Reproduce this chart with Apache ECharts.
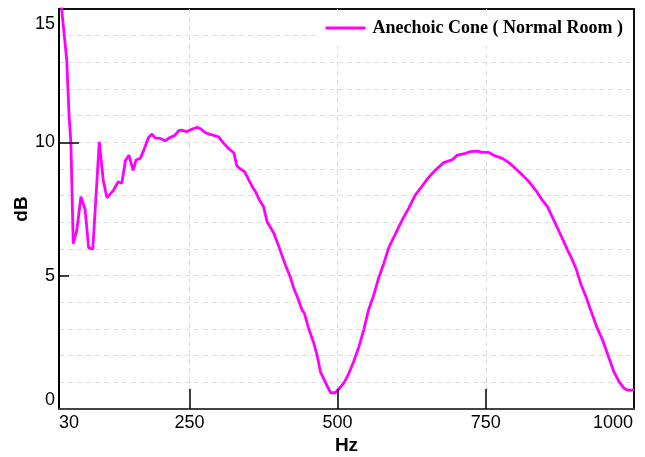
<!DOCTYPE html>
<html>
<head>
<meta charset="utf-8">
<script src="https://cdn.jsdelivr.net/npm/echarts@6/dist/echarts.min.js"></script>
<style>
  html, body { margin: 0; padding: 0; background: #fff; }
  #chart { width: 645px; height: 457px; }
</style>
</head>
<body>
<div id="chart"></div>
<script>
// Measured response of the anechoic cone in a normal room
const freqHz = [30, 43, 47, 50, 54, 60, 67, 74, 80, 87, 98, 105, 111, 122, 130, 136, 142, 148, 155, 160,
  167, 172, 181, 187, 192, 200, 209, 218, 225, 232, 237, 245, 254, 263, 268, 277, 285, 294, 299, 308,
  316, 325, 330, 336, 343, 356, 361, 368, 375, 381, 392, 399, 406, 412, 420, 426, 432, 440, 444, 451,
  460, 466, 471, 479, 488, 496, 502, 511, 519, 527, 536, 544, 552, 561, 569, 578, 586, 598, 609, 620,
  631, 640, 651, 665, 679, 693, 702, 716, 724, 736, 744, 755, 766, 778, 789, 800, 812, 823, 834, 845,
  854, 862, 871, 879, 888, 896, 902, 910, 920, 927, 938, 947, 952, 959, 966, 975, 983, 989, 1000];
const levelDb = [16.0, 13.1, 11.0, 10.0, 6.2, 6.7, 7.96, 7.49, 6.05, 5.99, 10.02, 8.52, 7.92, 8.21, 8.52, 8.47, 9.31, 9.52, 8.95, 9.34,
  9.40, 9.65, 10.18, 10.31, 10.17, 10.15, 10.06, 10.19, 10.25, 10.44, 10.46, 10.40, 10.49, 10.56, 10.52, 10.36, 10.30, 10.24, 10.21, 9.96,
  9.77, 9.60, 9.12, 9.00, 8.90, 8.34, 8.17, 7.84, 7.59, 7.02, 6.61, 6.21, 5.77, 5.40, 4.96, 4.53, 4.21, 3.71, 3.59, 3.03,
  2.46, 1.96, 1.40, 1.02, 0.61, 0.61, 0.75, 0.99, 1.34, 1.77, 2.34, 2.96, 3.70, 4.27, 4.90, 5.46, 6.03, 6.59, 7.09, 7.53,
  8.02, 8.28, 8.62, 8.96, 9.24, 9.34, 9.52, 9.59, 9.65, 9.67, 9.62, 9.62, 9.49, 9.40, 9.24, 9.02, 8.77, 8.52, 8.21, 7.84,
  7.59, 7.21, 6.78, 6.40, 5.96, 5.59, 5.28, 4.71, 4.15, 3.70, 3.03, 2.59, 2.28, 1.84, 1.40, 1.02, 0.78, 0.71, 0.71];

const seriesName = 'Anechoic Cone ( Normal Room )';
const xTickLabels = [30, 250, 500, 750, 1000];
const xGridValues = [250, 500, 750];
const yTickLabels = [0, 5, 10, 15];
const yGridValues = [1, 2, 3, 4, 5, 6, 7, 8, 9, 10, 11, 12, 13, 14];

const GRID = { left: 59, right: 11, top: 9, bottom: 48 };
const plotWidth = 645 - GRID.left - GRID.right;

const tickFont = { fontFamily: 'Liberation Sans, Arial, sans-serif', fontSize: 18, color: '#000' };
const nameFont = { fontFamily: 'Liberation Sans, Arial, sans-serif', fontWeight: 'bold', fontSize: 19, color: '#000' };
const gridDash = { color: '#dcdcdc', width: 1, type: [5, 4] };

const chart = echarts.init(document.getElementById('chart'), null, { renderer: 'canvas' });

// dashed grid: vertical lines at the labelled frequencies, horizontal lines every 1 dB
const gridLines = xGridValues.map(function (v) { return { xAxis: v }; })
  .concat(yGridValues.map(function (v) { return { yAxis: v }; }));

chart.setOption({
  animation: false,
  backgroundColor: '#fff',
  grid: {
    left: GRID.left, right: GRID.right, top: GRID.top, bottom: GRID.bottom,
    outerBoundsMode: 'none', containLabel: false,
    show: true, borderColor: '#111', borderWidth: 2, backgroundColor: 'transparent'
  },
  legend: {
    right: 12, top: 10,
    padding: [9, 10, 9, 6],
    backgroundColor: '#fff',
    itemWidth: 40, itemHeight: 20,
    textStyle: {
      fontFamily: 'Liberation Serif, Times New Roman, serif',
      fontWeight: 'bold', fontSize: 18, color: '#000',
      padding: [0, 0, 0, 2]
    },
    data: [{ name: seriesName, icon: 'path://M0,8.5 L40,8.5 L40,11.5 L0,11.5 Z' }]
  },
  xAxis: {
    type: 'value', min: 30, max: 1000, z: 4,
    name: 'Hz', nameLocation: 'middle', nameGap: 27, nameMoveOverlap: false,
    nameTextStyle: nameFont,
    axisLine: { show: true, lineStyle: { color: '#444', width: 2 } },
    axisTick: { show: true, inside: true, length: 20, customValues: xGridValues, lineStyle: { color: '#000', width: 1.5 } },
    axisLabel: {
      show: true, margin: 5, customValues: xTickLabels,
      formatter: function (v) {
        if (v === 30) return '{first|' + v + '}';
        if (v === 1000) return '{last|' + v + '}';
        return '{n|' + v + '}';
      },
      rich: {
        n: Object.assign({}, tickFont),
        first: Object.assign({ padding: [0, 0, 0, 20] }, tickFont),
        last: Object.assign({ padding: [0, 42, 0, 0] }, tickFont)
      }
    },
    splitLine: { show: false }
  },
  yAxis: [{
    type: 'value', min: 0, max: 15, interval: 1, z: 4,
    name: 'dB', nameLocation: 'middle', nameGap: 28, nameMoveOverlap: false,
    nameTextStyle: nameFont,
    axisLine: { show: true, lineStyle: { color: '#000', width: 2 } },
    axisTick: { show: true, inside: true, length: 10, customValues: [5], lineStyle: { color: '#000', width: 1.5 } },
    axisLabel: {
      show: true, margin: 4, customValues: yTickLabels,
      formatter: function (v) {
        if (v === 15) return '{top|' + v + '}';
        if (v === 0) return '{bot|' + v + '}';
        return '{n|' + v + '}';
      },
      rich: {
        n: Object.assign({}, tickFont),
        top: Object.assign({ padding: [30, 0, 0, 0] }, tickFont),
        bot: Object.assign({ padding: [0, 0, 18, 0] }, tickFont)
      }
    },
    splitLine: { show: false }
  }, {
    // longer inward tick at 10 dB, laid over the left axis
    type: 'value', min: 0, max: 15, position: 'right', offset: -plotWidth, z: 4,
    axisLine: { show: false },
    axisTick: { show: true, inside: false, length: 20, customValues: [10], lineStyle: { color: '#000', width: 1.5 } },
    axisLabel: { show: false },
    splitLine: { show: false }
  }],
  series: [{
    name: seriesName,
    type: 'line',
    data: freqHz.map(function (f, i) { return [f, levelDb[i]]; }),
    symbol: 'none',
    clip: true,
    z: 3,
    lineStyle: { color: '#ff00ff', width: 2.8 },
    itemStyle: { color: '#ff00ff' },
    markLine: {
      silent: true, symbol: 'none', z: 1,
      label: { show: false },
      lineStyle: gridDash,
      data: gridLines
    }
  }]
});
</script>
</body>
</html>
